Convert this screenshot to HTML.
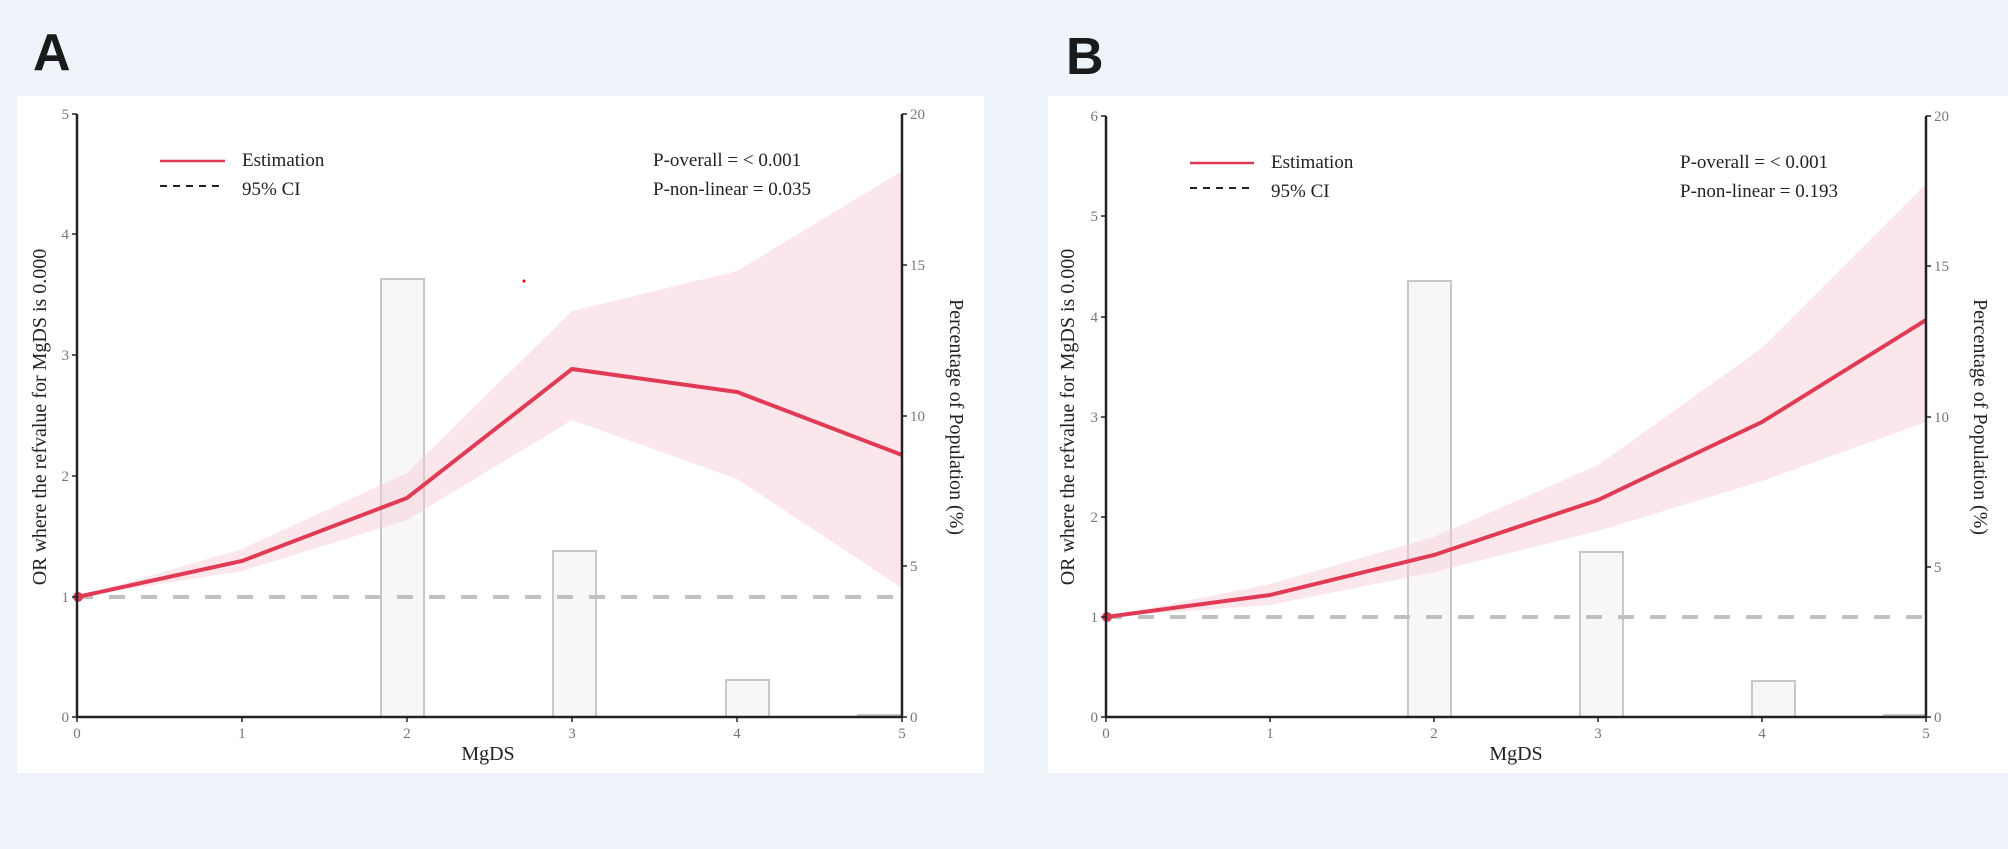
<!DOCTYPE html>
<html><head><style>
html,body{margin:0;padding:0;background:#eef2f9;}
svg{display:block;}
text{font-family:"Liberation Serif",serif;}
</style></head><body>
<svg width="2008" height="849" xmlns="http://www.w3.org/2000/svg">
<rect width="2008" height="849" fill="#eef2f9"/>
<text x="33" y="70" style="font-family:'Liberation Sans',sans-serif" font-weight="bold" font-size="52" fill="#1a1a1a">A</text>
<text x="1066" y="74" style="font-family:'Liberation Sans',sans-serif" font-weight="bold" font-size="52" fill="#1a1a1a">B</text>

<!-- Panel A -->
<rect x="17" y="96" width="967" height="677" fill="#fff"/>
<g>
<g fill="#f8f6f7" stroke="#c8c8c8" stroke-width="2">
<rect x="381" y="279" width="43" height="438"/>
<rect x="553" y="551" width="43" height="166"/>
<rect x="726" y="680" width="43" height="37"/>
<rect x="858" y="715" width="43" height="2"/>
</g>
<polygon fill="#f6c9d2" fill-opacity="0.45" points="77,597 242,549 407,473 572,311 737,271 902,171 902,588 737,479 572,420 407,520 242,571 77,597"/>
<line x1="77" y1="597" x2="902" y2="597" stroke="#c0c0c0" stroke-width="4" stroke-dasharray="16,16"/>
<polyline fill="none" stroke="#e03a55" stroke-width="4" points="77,597 242,561 407,498 572,369 737,392 902,455"/>
<circle cx="78" cy="597" r="5" fill="#e03a55"/>
<circle cx="524" cy="281" r="1.5" fill="#e00"/>
<g stroke="#222" stroke-width="2.5" fill="none">
<line x1="77" y1="114" x2="77" y2="718"/><line x1="76" y1="717" x2="902" y2="717"/><line x1="902" y1="114" x2="902" y2="718"/>
</g>
<g stroke="#222" stroke-width="1.5">
<line x1="72" y1="114" x2="77" y2="114"/><line x1="72" y1="234" x2="77" y2="234"/><line x1="72" y1="355" x2="77" y2="355"/><line x1="72" y1="476" x2="77" y2="476"/><line x1="72" y1="597" x2="77" y2="597"/><line x1="72" y1="717" x2="77" y2="717"/>
<line x1="902" y1="114" x2="907" y2="114"/><line x1="902" y1="265" x2="907" y2="265"/><line x1="902" y1="416" x2="907" y2="416"/><line x1="902" y1="566" x2="907" y2="566"/><line x1="902" y1="717" x2="907" y2="717"/>
<line x1="77" y1="717" x2="77" y2="722"/><line x1="242" y1="717" x2="242" y2="722"/><line x1="407" y1="717" x2="407" y2="722"/><line x1="572" y1="717" x2="572" y2="722"/><line x1="737" y1="717" x2="737" y2="722"/><line x1="902" y1="717" x2="902" y2="722"/>
</g>
<g fill="#777" font-size="15" text-anchor="end">
<text x="69" y="119">5</text><text x="69" y="239">4</text><text x="69" y="360">3</text><text x="69" y="481">2</text><text x="69" y="602">1</text><text x="69" y="722">0</text>
</g>
<g fill="#777" font-size="15">
<text x="910" y="119">20</text><text x="910" y="270">15</text><text x="910" y="421">10</text><text x="910" y="571">5</text><text x="910" y="722">0</text>
</g>
<g fill="#777" font-size="15" text-anchor="middle">
<text x="77" y="738">0</text><text x="242" y="738">1</text><text x="407" y="738">2</text><text x="572" y="738">3</text><text x="737" y="738">4</text><text x="902" y="738">5</text>
</g>
<text x="488" y="760" font-size="20" text-anchor="middle" fill="#222">MgDS</text>
<text transform="translate(46,417) rotate(-90)" font-size="20" text-anchor="middle" fill="#222">OR where the refvalue for MgDS is 0.000</text>
<text transform="translate(950,417) rotate(90)" font-size="20" text-anchor="middle" fill="#222">Percentage of Population (%)</text>
<line x1="160" y1="161" x2="225" y2="161" stroke="#e03a55" stroke-width="2.5"/>
<line x1="160" y1="186" x2="225" y2="186" stroke="#222" stroke-width="2" stroke-dasharray="7,6"/>
<text x="242" y="166" font-size="19" fill="#222">Estimation</text>
<text x="242" y="195" font-size="19" fill="#222">95% CI</text>
<text x="653" y="166" font-size="19" fill="#222">P-overall = &lt; 0.001</text>
<text x="653" y="195" font-size="19" fill="#222">P-non-linear = 0.035</text>
</g>

<!-- Panel B -->
<rect x="1048" y="96" width="960" height="677" fill="#fff"/>
<g>
<g fill="#f8f6f7" stroke="#c8c8c8" stroke-width="2">
<rect x="1408" y="281" width="43" height="436"/>
<rect x="1580" y="552" width="43" height="165"/>
<rect x="1752" y="681" width="43" height="36"/>
<rect x="1884" y="715" width="42" height="2"/>
</g>
<polygon fill="#f6c9d2" fill-opacity="0.45" points="1106,617 1270,584 1434,537 1598,465 1762,348 1926,184 1926,422 1762,481 1598,531 1434,572 1270,605 1106,617"/>
<line x1="1106" y1="617" x2="1926" y2="617" stroke="#c0c0c0" stroke-width="4" stroke-dasharray="16,16"/>
<polyline fill="none" stroke="#e03a55" stroke-width="4" points="1106,617 1270,595 1434,555 1598,500 1762,422 1926,320"/>
<circle cx="1107" cy="617" r="5" fill="#e03a55"/>
<g stroke="#222" stroke-width="2.5" fill="none">
<line x1="1106" y1="116" x2="1106" y2="718"/><line x1="1105" y1="717" x2="1926" y2="717"/><line x1="1926" y1="116" x2="1926" y2="718"/>
</g>
<g stroke="#222" stroke-width="1.5">
<line x1="1101" y1="116" x2="1106" y2="116"/><line x1="1101" y1="216" x2="1106" y2="216"/><line x1="1101" y1="317" x2="1106" y2="317"/><line x1="1101" y1="417" x2="1106" y2="417"/><line x1="1101" y1="517" x2="1106" y2="517"/><line x1="1101" y1="617" x2="1106" y2="617"/><line x1="1101" y1="717" x2="1106" y2="717"/>
<line x1="1926" y1="116" x2="1931" y2="116"/><line x1="1926" y1="266" x2="1931" y2="266"/><line x1="1926" y1="417" x2="1931" y2="417"/><line x1="1926" y1="567" x2="1931" y2="567"/><line x1="1926" y1="717" x2="1931" y2="717"/>
<line x1="1106" y1="717" x2="1106" y2="722"/><line x1="1270" y1="717" x2="1270" y2="722"/><line x1="1434" y1="717" x2="1434" y2="722"/><line x1="1598" y1="717" x2="1598" y2="722"/><line x1="1762" y1="717" x2="1762" y2="722"/><line x1="1926" y1="717" x2="1926" y2="722"/>
</g>
<g fill="#777" font-size="15" text-anchor="end">
<text x="1098" y="121">6</text><text x="1098" y="221">5</text><text x="1098" y="322">4</text><text x="1098" y="422">3</text><text x="1098" y="522">2</text><text x="1098" y="622">1</text><text x="1098" y="722">0</text>
</g>
<g fill="#777" font-size="15">
<text x="1934" y="121">20</text><text x="1934" y="271">15</text><text x="1934" y="422">10</text><text x="1934" y="572">5</text><text x="1934" y="722">0</text>
</g>
<g fill="#777" font-size="15" text-anchor="middle">
<text x="1106" y="738">0</text><text x="1270" y="738">1</text><text x="1434" y="738">2</text><text x="1598" y="738">3</text><text x="1762" y="738">4</text><text x="1926" y="738">5</text>
</g>
<text x="1516" y="760" font-size="20" text-anchor="middle" fill="#222">MgDS</text>
<text transform="translate(1074,417) rotate(-90)" font-size="20" text-anchor="middle" fill="#222">OR where the refvalue for MgDS is 0.000</text>
<text transform="translate(1974,417) rotate(90)" font-size="20" text-anchor="middle" fill="#222">Percentage of Population (%)</text>
<line x1="1190" y1="163" x2="1254" y2="163" stroke="#e03a55" stroke-width="2.5"/>
<line x1="1190" y1="188" x2="1254" y2="188" stroke="#222" stroke-width="2" stroke-dasharray="7,6"/>
<text x="1271" y="168" font-size="19" fill="#222">Estimation</text>
<text x="1271" y="197" font-size="19" fill="#222">95% CI</text>
<text x="1680" y="168" font-size="19" fill="#222">P-overall = &lt; 0.001</text>
<text x="1680" y="197" font-size="19" fill="#222">P-non-linear = 0.193</text>
</g>
</svg>
</body></html>
